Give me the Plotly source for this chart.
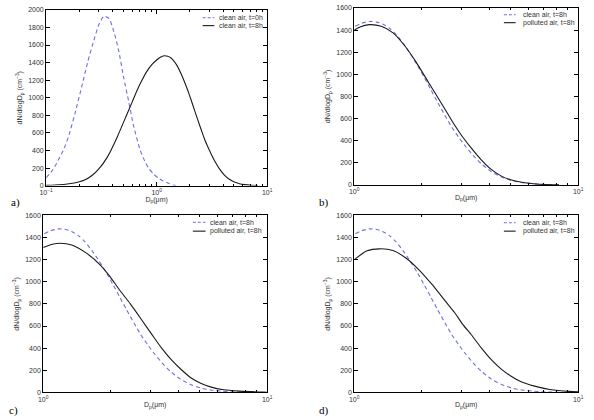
import plotly.graph_objects as go

# ---------------- data ----------------
# panel a: clean air, t=0h
clean_t0_d = [0.10, 0.115, 0.129, 0.145, 0.159, 0.182, 0.209, 0.239, 0.274, 0.303,
              0.335, 0.371, 0.410, 0.455, 0.503, 0.557, 0.617, 0.707, 0.78, 0.85,
              0.95, 1.04, 1.15, 1.27, 1.41, 1.50]
clean_t0_n = [90, 180, 292, 420, 554, 816, 1116, 1416, 1678, 1846,
              1929, 1902, 1753, 1528, 1228, 966, 685, 410, 280, 195,
              125, 85, 52, 28, 8, 2]

# clean air, t=8h (panel a solid, panels b/c/d dashed)
clean_t8_d = [0.10, 0.12, 0.15, 0.18, 0.22, 0.26, 0.30, 0.36, 0.44, 0.54,
              0.60, 0.66, 0.73, 0.81, 0.90, 1.00, 1.08, 1.17, 1.26, 1.34,
              1.44, 1.54, 1.66, 1.78, 1.91, 2.05, 2.20, 2.36, 2.54, 2.72,
              2.93, 3.15, 3.40, 3.70, 4.10, 4.55, 5.05, 5.60, 6.30, 7.20, 8.20]
clean_t8_n = [3, 7, 16, 30, 60, 115, 190, 330, 554, 816,
              950, 1075, 1190, 1295, 1375, 1430, 1462, 1478, 1472, 1455,
              1415, 1360, 1275, 1185, 1085, 975, 860, 745, 630, 525,
              430, 345, 265, 190, 120, 72, 40, 22, 11, 4, 1]

# panel b: polluted air, t=8h
poll_b_d = [1.00, 1.06, 1.17, 1.32, 1.49, 1.67, 1.88, 2.15, 2.46, 2.81,
            3.02, 3.34, 3.70, 4.09, 4.52, 5.00, 5.60, 6.30, 7.20, 8.20]
poll_b_n = [1398, 1428, 1449, 1434, 1375, 1265, 1117, 924, 732, 539,
            445, 330, 225, 140, 82, 46, 24, 11, 4, 1]

# panel c: polluted air, t=8h
poll_c_d = [1.00, 1.10, 1.19, 1.34, 1.56, 1.79, 1.98, 2.18, 2.45, 2.76,
            3.07, 3.38, 3.73, 4.13, 4.56, 5.05, 5.58, 6.38, 7.55, 9.55, 10.0]
poll_c_n = [1310, 1339, 1348, 1333, 1259, 1156, 1052, 933, 800, 652,
            518, 400, 296, 207, 133, 83, 50, 24, 12, 3, 2]

# panel d: polluted air, t=8h
poll_d_d = [1.00, 1.14, 1.30, 1.49, 1.70, 1.94, 2.22, 2.54, 2.81, 3.05,
            3.34, 3.70, 4.09, 4.52, 5.00, 5.53, 6.32, 7.47, 9.13, 10.0]
poll_d_n = [1200, 1280, 1298, 1283, 1215, 1111, 978, 830, 720, 615,
            519, 400, 296, 213, 148, 98, 59, 27, 9, 6]

panel_labels = ["a)", "b)", "c)", "d)"]
legend_a = ["clean air, t=0h", "clean air, t=8h"]
legend_bcd = ["clean air, t=8h", "polluted air, t=8h"]
x_tickvals = [0.1, 1, 10]
x_ticktext = ["10<sup>−1</sup>", "10<sup>0</sup>", "10<sup>1</sup>"]
x_title = "D<sub>p</sub>(μm)"
y_title = "dN/dlogD<sub>p</sub> (cm<sup>−3</sup>)"

# ---------------- styling ----------------
W, H = 594, 420
BLUE = "#6e6ee6"
BLACK = "#1a1a1a"
DASH = "4px,3px"
FONT = "Liberation Sans, Arial, sans-serif"

def fx(px):
    return px / W

def fy(py):
    return 1 - py / H

# plot areas in pixels: (left, right, top, bottom)
areas = {
    1: (40, 266, 6, 184.7),
    2: (355, 584, 4, 184),
    3: (37, 266, 215, 395),
    4: (355, 584, 215, 395),
}

fig = go.Figure()

series = [
    (1, clean_t0_d, clean_t0_n, BLUE, DASH),
    (1, clean_t8_d, clean_t8_n, BLACK, "solid"),
    (2, clean_t8_d, clean_t8_n, BLUE, DASH),
    (2, poll_b_d, poll_b_n, BLACK, "solid"),
    (3, clean_t8_d, clean_t8_n, BLUE, DASH),
    (3, poll_c_d, poll_c_n, BLACK, "solid"),
    (4, clean_t8_d, clean_t8_n, BLUE, DASH),
    (4, poll_d_d, poll_d_n, BLACK, "solid"),
]
for k, xs, ys, col, dash in series:
    sfx = "" if k == 1 else str(k)
    fig.add_trace(go.Scatter(x=xs, y=ys, mode="lines",
                             line=dict(color=col, width=1.1, dash=dash, shape="spline", smoothing=0.6),
                             xaxis="x" + sfx, yaxis="y" + sfx, showlegend=False,
                             hoverinfo="skip"))

minor_vals = [0.2, 0.3, 0.4, 0.5, 0.6, 0.7, 0.8, 0.9, 2, 3, 4, 5, 6, 7, 8, 9]
layout = dict(width=W, height=H, margin=dict(l=0, r=0, t=0, b=0),
              paper_bgcolor="white", plot_bgcolor="white",
              font=dict(family=FONT, size=7, color="#333"))

for k, (l, r, t, b) in areas.items():
    sfx = "" if k == 1 else str(k)
    xr = [-1, 1] if k == 1 else [0, 1]
    yr = [0, 2000] if k == 1 else [0, 1600]
    layout["xaxis" + sfx] = dict(
        domain=[fx(l), fx(r)], anchor="y" + sfx, type="log", range=xr,
        tickmode="array", tickvals=x_tickvals, ticktext=x_ticktext,
        showgrid=False, zeroline=False,
        showline=True, linecolor="black", linewidth=1, mirror="ticks",
        ticks="inside", ticklen=4, tickcolor="black",
        minor=dict(tickmode="array", tickvals=minor_vals, ticks="inside",
                   ticklen=2, tickcolor="black", showgrid=False),
        tickfont=dict(size=7, color="#333"),
        title=dict(text=x_title, font=dict(size=7, color="#333"), standoff=0),
    )
    layout["yaxis" + sfx] = dict(
        domain=[fy(b), fy(t)], anchor="x" + sfx, range=yr, dtick=200,
        showgrid=False, zeroline=False, showline=True, linecolor="black",
        linewidth=1, mirror="ticks", ticks="inside", ticklen=4, tickcolor="black",
        tickfont=dict(size=7, color="#333"),
        title=dict(text=y_title, font=dict(size=7, color="#333"), standoff=4),
    )

fig.update_layout(**layout)

# panel labels
label_pos = [(2, 202), (317, 202), (0, 413), (317, 413)]
for txt, (px, py) in zip(panel_labels, label_pos):
    fig.add_annotation(text=txt, xref="paper", yref="paper", x=fx(px), y=fy(py),
                       xanchor="left", yanchor="middle", showarrow=False,
                       font=dict(family="Liberation Serif, Times New Roman, serif",
                                 size=11, color="black"))

# in-plot legends (line sample + text)
legends = [
    (legend_a, 200, 212, 215, [14, 22]),
    (legend_bcd, 508, 520, 525, [11, 19]),
    (legend_bcd, 190, 203, 206, [222, 231]),
    (legend_bcd, 508, 520, 525, [222.5, 231]),
]
for texts, x0, x1, xt, ys in legends:
    for i, (txt, py) in enumerate(zip(texts, ys)):
        col = BLUE if i == 0 else BLACK
        fig.add_shape(type="line", xref="paper", yref="paper",
                      x0=fx(x0), x1=fx(x1), y0=fy(py), y1=fy(py),
                      line=dict(color=col, width=1.1, dash=("3px,2px" if i == 0 else "solid")))
        fig.add_annotation(text=txt, xref="paper", yref="paper", x=fx(xt), y=fy(py),
                           xanchor="left", yanchor="middle", showarrow=False,
                           font=dict(size=7, color="#333"))

fig.write_html("out.html")
